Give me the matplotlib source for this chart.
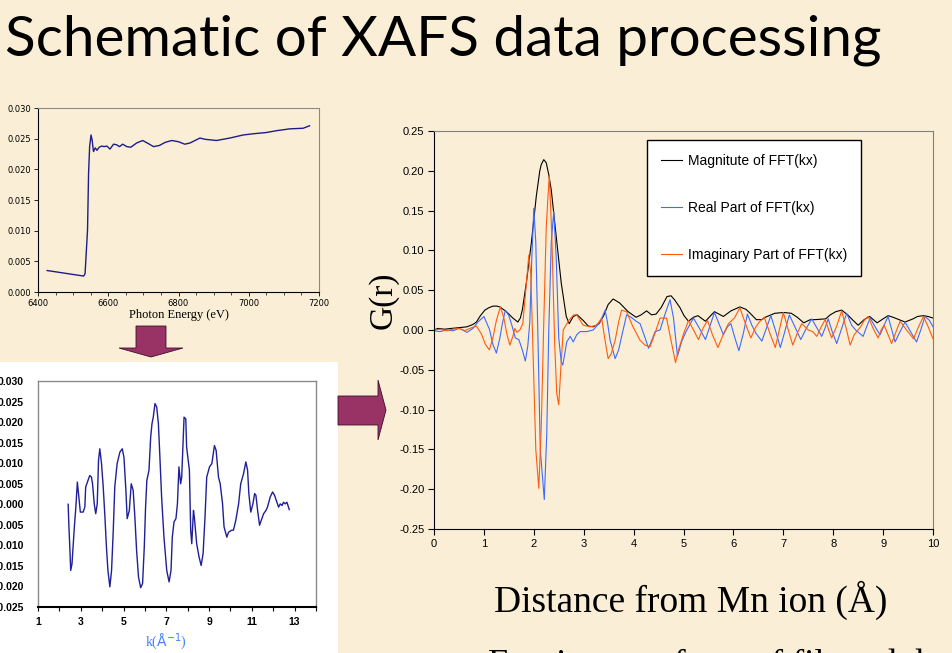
import matplotlib
matplotlib.use('Agg')
import matplotlib.pyplot as plt
from matplotlib.patches import Polygon, Rectangle
from matplotlib.ticker import FormatStrFormatter, MultipleLocator

W, H = 953, 653
BG = '#FAEFD6'

# --- raw absorption (top left) ---
energy_ev = [6426, 6530, 6534, 6541, 6544, 6547, 6551, 6554, 6558, 6563, 6568, 6574,
             6582, 6588, 6596, 6605, 6615, 6624, 6632, 6641, 6653, 6664, 6681, 6698,
             6714, 6729, 6746, 6762, 6781, 6800, 6818, 6833, 6847, 6861, 6875, 6908,
             6946, 6984, 7013, 7050, 7079, 7117, 7155, 7173]
mu_abs = [0.0035, 0.0026, 0.0030, 0.0101, 0.0194, 0.0237, 0.0256, 0.0248, 0.0229, 0.0235,
          0.0231, 0.0236, 0.0238, 0.0237, 0.0238, 0.0233, 0.0241, 0.0240, 0.0237, 0.0241,
          0.0237, 0.0236, 0.0243, 0.0247, 0.0242, 0.0237, 0.0239, 0.0244, 0.0247, 0.0245,
          0.0241, 0.0243, 0.0247, 0.0251, 0.0249, 0.0247, 0.0251, 0.0256, 0.0258, 0.0260,
          0.0263, 0.0266, 0.0267, 0.0271]

# --- chi(k) (bottom left) ---
k_vals = [2.41, 2.44, 2.48, 2.53, 2.59, 2.64, 2.70, 2.77, 2.84, 2.91, 2.98, 3.11, 3.19,
          3.23, 3.31, 3.42, 3.50, 3.55, 3.63, 3.70, 3.77, 3.83, 3.89, 3.97, 4.05, 4.13,
          4.20, 4.27, 4.36, 4.44, 4.52, 4.59, 4.70, 4.83, 4.94, 5.02, 5.11, 5.17, 5.27,
          5.36, 5.45, 5.53, 5.61, 5.70, 5.80, 5.89, 5.97, 6.03, 6.09, 6.19, 6.27, 6.33,
          6.39, 6.47, 6.55, 6.63, 6.70, 6.78, 6.89, 7.02, 7.13, 7.22, 7.28, 7.36, 7.45,
          7.52, 7.59, 7.67, 7.72, 7.83, 7.91, 7.95, 8.08, 8.14, 8.19, 8.27, 8.31, 8.42,
          8.53, 8.63, 8.72, 8.81, 8.89, 9.02, 9.13, 9.25, 9.33, 9.44, 9.52, 9.63, 9.70,
          9.83, 9.91, 10.06, 10.14, 10.25, 10.38, 10.48, 10.61, 10.72, 10.80, 10.86,
          10.95, 11.05, 11.13, 11.19, 11.27, 11.36, 11.44, 11.55, 11.66, 11.73, 11.86,
          11.97, 12.06, 12.14, 12.25, 12.33, 12.41, 12.48, 12.56, 12.64, 12.75]
chi_vals = [0.0000, -0.0046, -0.0096, -0.0161, -0.0145, -0.0104, -0.0055, -0.0007, 0.0054,
            0.0018, -0.0019, -0.0019, -0.0007, 0.0042, 0.0054, 0.0070, 0.0066, 0.0050,
            0.0001, -0.0023, 0.0001, 0.0107, 0.0135, 0.0099, 0.0042, -0.0031, -0.0104,
            -0.0161, -0.0201, -0.0161, -0.0063, 0.0042, 0.0099, 0.0127, 0.0135, 0.0114,
            0.0034, -0.0035, -0.0015, 0.0050, 0.0034, -0.0031, -0.0112, -0.0177, -0.0203,
            -0.0193, -0.0104, -0.0007, 0.0058, 0.0083, 0.0164, 0.0196, 0.0212, 0.0245,
            0.0237, 0.0196, 0.0115, 0.0018, -0.0080, -0.0161, -0.0189, -0.0161, -0.0080,
            -0.0043, -0.0035, 0.0001, 0.0091, 0.0050, 0.0066, 0.0212, 0.0208, 0.0139,
            0.0083, -0.0063, -0.0096, -0.0015, -0.0031, -0.0096, -0.0128, -0.0149, -0.0120,
            -0.0031, 0.0066, 0.0091, 0.0099, 0.0143, 0.0131, 0.0066, 0.0050, 0.0001,
            -0.0055, -0.0080, -0.0068, -0.0063, -0.0063, -0.0039, 0.0001, 0.0050, 0.0074,
            0.0103, 0.0083, 0.0026, -0.0019, 0.0001, 0.0026, 0.0022, -0.0015, -0.0051,
            -0.0039, -0.0023, -0.0015, -0.0007, 0.0018, 0.0030, 0.0022, 0.0010, -0.0007,
            0.0001, -0.0003, 0.0005, 0.0001, 0.0005, -0.0013]

# --- FFT (right) ---
r_mag = [0.00, 0.08, 0.21, 0.35, 0.51, 0.66, 0.78, 0.85, 0.93, 1.02, 1.10, 1.18, 1.26,
         1.32, 1.45, 1.58, 1.68, 1.73, 1.77, 1.85, 1.95, 2.05, 2.12, 2.15, 2.20, 2.25,
         2.30, 2.35, 2.45, 2.55, 2.65, 2.71, 2.79, 2.87, 2.99, 3.09, 3.19, 3.31, 3.40,
         3.49, 3.59, 3.72, 3.89, 4.05, 4.15, 4.26, 4.36, 4.45, 4.55, 4.67, 4.75, 4.82,
         4.93, 5.01, 5.10, 5.20, 5.29, 5.44, 5.62, 5.80, 5.95, 6.13, 6.25, 6.32, 6.46,
         6.57, 6.64, 6.83, 7.01, 7.16, 7.28, 7.41, 7.54, 7.63, 7.85, 7.94, 8.05, 8.17,
         8.29, 8.40, 8.50, 8.62, 8.73, 8.88, 9.00, 9.10, 9.20, 9.32, 9.44, 9.60, 9.69,
         9.81, 9.90, 10.00]
g_mag = [0.000, 0.002, 0.001, 0.002, 0.003, 0.004, 0.007, 0.010, 0.018, 0.025, 0.028,
         0.030, 0.030, 0.029, 0.023, 0.015, 0.010, 0.015, 0.025, 0.059, 0.109, 0.168,
         0.200, 0.208, 0.214, 0.210, 0.195, 0.176, 0.117, 0.059, 0.017, 0.008, 0.017,
         0.019, 0.012, 0.005, 0.004, 0.008, 0.018, 0.032, 0.039, 0.034, 0.023, 0.016,
         0.019, 0.024, 0.019, 0.020, 0.028, 0.042, 0.043, 0.038, 0.028, 0.018, 0.011,
         0.016, 0.018, 0.011, 0.023, 0.017, 0.024, 0.029, 0.026, 0.022, 0.013, 0.013,
         0.016, 0.021, 0.022, 0.021, 0.016, 0.009, 0.013, 0.013, 0.014, 0.019, 0.023,
         0.025, 0.019, 0.012, 0.006, 0.013, 0.017, 0.009, 0.014, 0.018, 0.016, 0.013,
         0.010, 0.014, 0.017, 0.018, 0.017, 0.015]

r_real = [0.00, 0.12, 0.25, 0.38, 0.50, 0.58, 0.66, 0.78, 0.88, 1.00, 1.11, 1.18, 1.25,
          1.32, 1.37, 1.43, 1.50, 1.56, 1.63, 1.70, 1.77, 1.83, 1.88, 1.92, 1.96, 2.00,
          2.04, 2.08, 2.13, 2.21, 2.26, 2.30, 2.35, 2.40, 2.45, 2.50, 2.55, 2.58, 2.62,
          2.66, 2.73, 2.79, 2.86, 2.93, 3.06, 3.19, 3.33, 3.43, 3.48, 3.53, 3.63, 3.70,
          3.76, 3.86, 3.95, 4.05, 4.13, 4.22, 4.30, 4.37, 4.43, 4.53, 4.63, 4.73, 4.80,
          4.88, 4.96, 5.05, 5.20, 5.32, 5.44, 5.53, 5.62, 5.71, 5.80, 5.88, 5.95, 6.03,
          6.11, 6.20, 6.28, 6.37, 6.45, 6.57, 6.66, 6.75, 6.85, 6.94, 7.03, 7.12, 7.24,
          7.35, 7.46, 7.57, 7.67, 7.77, 7.84, 7.90, 7.98, 8.07, 8.17, 8.27, 8.37, 8.45,
          8.60, 8.67, 8.74, 8.84, 8.94, 9.02, 9.10, 9.17, 9.24, 9.34, 9.44, 9.55, 9.67,
          9.76, 9.84, 9.93, 10.00]
g_real = [-0.001, -0.002, 0.000, -0.001, 0.002, 0.000, -0.003, 0.002, 0.010, 0.017, 0.001,
          -0.018, -0.029, -0.010, 0.008, 0.025, 0.018, 0.006, -0.010, -0.012, -0.025,
          -0.039, -0.020, 0.010, 0.090, 0.153, 0.110, 0.000, -0.150, -0.213, -0.130, 0.000,
          0.110, 0.149, 0.090, -0.010, -0.040, -0.044, -0.030, -0.015, -0.008, -0.015,
          -0.006, -0.002, -0.002, 0.000, 0.010, 0.025, 0.008, -0.013, -0.036, -0.025,
          -0.008, 0.019, 0.016, 0.011, 0.008, -0.008, -0.023, -0.012, -0.002, 0.000,
          0.020, 0.038, 0.015, -0.033, -0.015, -0.002, 0.015, 0.002, -0.012, 0.005, 0.022,
          0.008, -0.006, 0.004, 0.008, -0.010, -0.026, -0.004, 0.020, 0.006, -0.004,
          -0.014, 0.002, 0.018, -0.002, -0.022, -0.002, 0.019, 0.003, -0.012, 0.002, 0.014,
          0.003, -0.008, 0.003, 0.014, -0.002, -0.017, 0.002, 0.021, 0.006, 0.000, -0.008,
          0.004, 0.015, 0.004, -0.006, 0.006, 0.017, 0.001, -0.015, -0.002, 0.010, -0.002,
          -0.015, 0.001, 0.017, 0.012, 0.004]

r_imag = [0.00, 0.12, 0.25, 0.38, 0.51, 0.61, 0.72, 0.85, 0.95, 1.03, 1.11, 1.18, 1.25,
          1.33, 1.40, 1.46, 1.52, 1.58, 1.62, 1.66, 1.72, 1.78, 1.84, 1.90, 1.94, 1.99,
          2.04, 2.10, 2.15, 2.20, 2.25, 2.31, 2.36, 2.42, 2.46, 2.50, 2.54, 2.59, 2.70,
          2.80, 2.86, 2.93, 2.99, 3.13, 3.26, 3.36, 3.42, 3.49, 3.55, 3.63, 3.70, 3.76,
          3.86, 3.98, 4.13, 4.23, 4.33, 4.43, 4.53, 4.66, 4.74, 4.84, 4.90, 5.00, 5.10,
          5.20, 5.30, 5.39, 5.48, 5.58, 5.69, 5.80, 5.90, 6.02, 6.13, 6.24, 6.35, 6.45,
          6.52, 6.62, 6.73, 6.84, 6.92, 7.00, 7.10, 7.19, 7.28, 7.37, 7.50, 7.59, 7.67,
          7.76, 7.84, 7.91, 7.97, 8.07, 8.17, 8.26, 8.34, 8.42, 8.47, 8.55, 8.62, 8.70,
          8.80, 8.90, 8.96, 9.02, 9.10, 9.17, 9.26, 9.34, 9.47, 9.61, 9.71, 9.81, 9.91,
          10.00]
g_imag = [0.000, 0.001, -0.001, 0.001, 0.002, -0.001, 0.002, 0.005, -0.005, -0.018,
          -0.025, -0.010, 0.012, 0.029, 0.015, -0.005, -0.019, -0.008, 0.002, -0.003,
          0.000, 0.008, 0.050, 0.094, 0.070, -0.040, -0.150, -0.199, -0.120, 0.010, 0.130,
          0.195, 0.120, -0.020, -0.080, -0.094, -0.050, 0.000, 0.012, 0.019, 0.019, 0.012,
          0.006, 0.004, 0.006, 0.015, -0.010, -0.036, -0.030, -0.013, 0.010, 0.025, 0.023,
          0.005, -0.013, -0.019, -0.021, -0.004, 0.015, 0.015, -0.010, -0.041, -0.025,
          -0.005, 0.012, 0.000, -0.012, 0.002, 0.012, -0.006, -0.022, -0.005, 0.008, 0.015,
          0.028, 0.008, -0.010, 0.004, 0.010, 0.016, -0.004, -0.022, 0.000, 0.022, 0.000,
          -0.019, -0.004, 0.008, 0.000, -0.002, -0.008, 0.004, 0.013, 0.000, -0.010, 0.005,
          0.024, 0.002, -0.019, -0.006, -0.002, 0.004, 0.012, 0.017, 0.002, -0.010, 0.000,
          0.006, -0.006, -0.017, -0.002, 0.011, 0.000, -0.011, 0.004, 0.017, 0.003, -0.011]

legend_labels = ['Magnitute of FFT(kx)', 'Real Part of FFT(kx)', 'Imaginary Part of FFT(kx)']


def px_rect(l, t, r, b):
    return [l / W, 1 - b / H, (r - l) / W, (b - t) / H]


def px_pts(pts):
    return [(x / W, 1 - y / H) for x, y in pts]


fig = plt.figure(figsize=(W / 100, H / 100), dpi=100, facecolor=BG)

# white card behind the chi(k) plot
fig.add_artist(Rectangle((0, 0), 338 / W, (H - 362) / H, transform=fig.transFigure,
                         facecolor='white', edgecolor='none', zorder=0))

# title
title = fig.text(5 / W, 1 - 55 / H, 'Schematic of XAFS data processing', family='Lato',
                 fontsize=40, va='baseline', ha='left')
fig.canvas.draw()
tw = title.get_window_extent().width
title.set_fontsize(40 * 875 / tw)

# ---- top-left: absorption ----
ax1 = fig.add_axes(px_rect(38, 108, 319, 292))
ax1.set_facecolor('none')
ax1.plot(energy_ev, mu_abs, color='#1C1C8C', lw=1.0)
ax1.set_xlim(6400, 7200)
ax1.set_ylim(0, 0.030)
ax1.xaxis.set_major_locator(MultipleLocator(200))
ax1.xaxis.set_minor_locator(MultipleLocator(50))
ax1.yaxis.set_major_locator(MultipleLocator(0.005))
ax1.yaxis.set_major_formatter(FormatStrFormatter('%.3f'))
ax1.tick_params(labelsize=6, length=3, width=0.6, pad=2)
ax1.tick_params(which='minor', length=2, width=0.5)
for s in ax1.spines.values():
    s.set_color('#8a8a8a')
    s.set_linewidth(0.8)
ax1.spines['left'].set_color('black')
ax1.spines['bottom'].set_color('black')
ax1.set_xlabel('Photon Energy (eV)', family='Liberation Serif', fontsize=9, labelpad=1)

# ---- bottom-left: chi(k) ----
ax2 = fig.add_axes(px_rect(38, 381, 316, 607))
ax2.set_facecolor('white')
ax2.plot(k_vals, chi_vals, color='#1F1F99', lw=1.0)
ax2.set_xlim(1, 14)
ax2.set_ylim(-0.025, 0.030)
ax2.xaxis.set_minor_locator(MultipleLocator(1))
ax2.set_xticks([1, 3, 5, 7, 9, 11, 13])
ax2.yaxis.set_major_locator(MultipleLocator(0.005))
ax2.yaxis.set_major_formatter(FormatStrFormatter('%.3f'))
ax2.tick_params(labelsize=7.5, length=3, width=0.8, pad=4)
ax2.tick_params(axis='y', length=0, pad=10)
ax2.tick_params(which='minor', length=3, width=0.8)
for lab in ax2.get_xticklabels() + ax2.get_yticklabels():
    lab.set_fontweight('bold')
    lab.set_family('Liberation Sans')
for s in ax2.spines.values():
    s.set_color('#8a8a8a')
    s.set_linewidth(1.0)
ax2.spines['bottom'].set_color('black')
ax2.spines['bottom'].set_linewidth(1.5)
fig.text(166 / W, 1 - 642 / H, r'k($\mathrm{\AA^{-1}}$)', color='#3F7FFF',
         family='Liberation Serif', fontsize=10, ha='center', va='center')

# ---- right: FFT ----
ax3 = fig.add_axes(px_rect(434, 131, 933, 529))
ax3.set_facecolor('none')
l1, = ax3.plot(r_mag, g_mag, color='black', lw=0.8)
l2, = ax3.plot(r_real, g_real, color='#3D6BFF', lw=0.8)
l3, = ax3.plot(r_imag, g_imag, color='#FF5A10', lw=0.8)
ax3.set_xlim(0, 10)
ax3.set_ylim(-0.25, 0.25)
ax3.xaxis.set_major_locator(MultipleLocator(1))
ax3.yaxis.set_major_locator(MultipleLocator(0.05))
ax3.yaxis.set_major_formatter(FormatStrFormatter('%.2f'))
ax3.tick_params(labelsize=8, length=4, width=0.8, pad=3)
for lab in ax3.get_xticklabels() + ax3.get_yticklabels():
    lab.set_family('Liberation Sans')
for s in ax3.spines.values():
    s.set_color('#808080')
    s.set_linewidth(0.8)
ax3.spines['left'].set_color('black')
ax3.spines['bottom'].set_color('black')
leg = ax3.legend([l1, l2, l3], legend_labels, loc='upper left',
                 bbox_to_anchor=(647 / W, 1 - 140 / H), bbox_transform=fig.transFigure,
                 frameon=True, fancybox=False, edgecolor='black', framealpha=1,
                 borderaxespad=0, borderpad=1.0, labelspacing=2.37, handlelength=1.5,
                 handletextpad=0.45, prop={'family': 'Liberation Sans', 'size': 10})
leg.get_frame().set_linewidth(1.0)

fig.text(383 / W, 1 - 300 / H, 'G(r)', rotation=90, family='Liberation Serif',
         fontsize=24, ha='center', va='center')
fig.text(691 / W, 1 - 600 / H, 'Distance from Mn ion (Å)', family='Liberation Serif',
         fontsize=27, ha='center', va='center')
# next line of the slide, only its top edge shows
fig.text(488 / W, -21 / H, 'Fourier transform of filtered data', family='Liberation Serif',
         fontsize=26, ha='left', va='baseline')

# ---- arrows ----
arrow_col = '#993366'
fig.add_artist(Polygon(px_pts([(136, 326), (166, 326), (166, 348), (183, 348), (151, 357),
                               (119, 348), (136, 348)]), closed=True,
                       transform=fig.transFigure, facecolor=arrow_col, edgecolor='#3a1028',
                       lw=0.6))
fig.add_artist(Polygon(px_pts([(338, 396), (378, 396), (378, 380), (386, 410), (378, 440),
                               (378, 425), (338, 425)]), closed=True,
                       transform=fig.transFigure, facecolor=arrow_col, edgecolor='#3a1028',
                       lw=0.6))

fig.savefig('out.png', dpi=100, facecolor=BG)
